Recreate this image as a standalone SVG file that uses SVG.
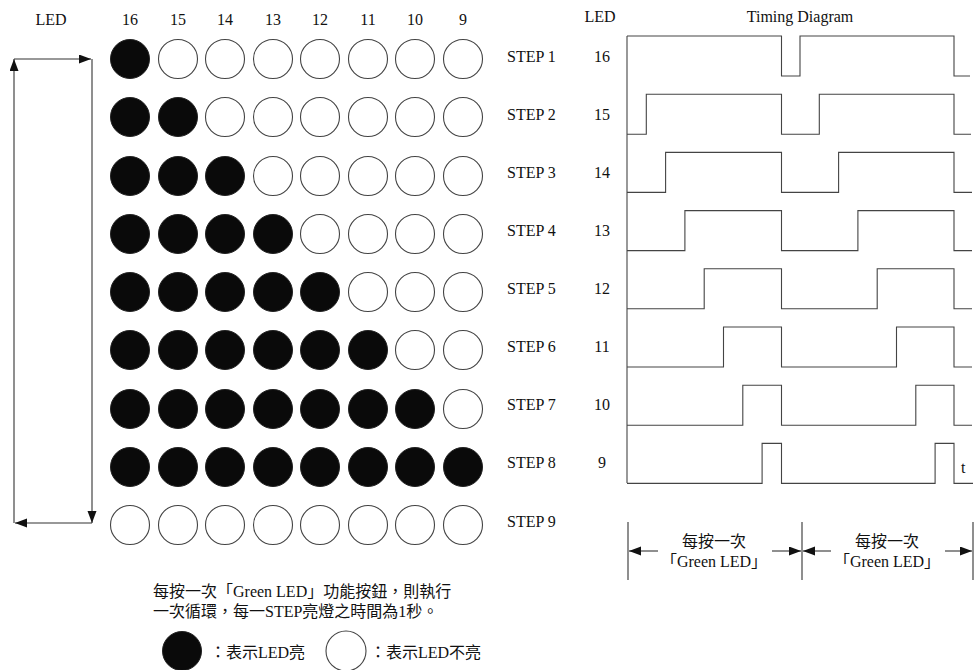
<svg xmlns="http://www.w3.org/2000/svg" width="975" height="670" viewBox="0 0 975 670">
<style>
text{font-family:"Liberation Serif","Noto Sans CJK TC",serif;font-size:16px;fill:#111}
.m{text-anchor:middle}
.on{fill:#0a0a0a;stroke:#222;stroke-width:1}
.off{fill:#fff;stroke:#444;stroke-width:1.1}
.w{fill:none;stroke:#444;stroke-width:1.1}
.ln{fill:none;stroke:#333;stroke-width:1.1}
</style>
<defs>
<marker id="ah" markerUnits="userSpaceOnUse" markerWidth="14" markerHeight="10" refX="12" refY="4.5" orient="auto">
<path d="M0,0 L12,4.5 L0,9 z" fill="#111"/>
</marker>
<circle id="c" r="19.5"/>
</defs>
<rect width="975" height="670" fill="#fff"/>

<g id="headers">
<text class="m" x="51" y="25">LED</text>
<text class="m" x="130" y="25">16</text>
<text class="m" x="178" y="25">15</text>
<text class="m" x="225" y="25">14</text>
<text class="m" x="273" y="25">13</text>
<text class="m" x="320" y="25">12</text>
<text class="m" x="368" y="25">11</text>
<text class="m" x="415" y="25">10</text>
<text class="m" x="463" y="25">9</text>
</g>

<g id="loop-arrow">
<line class="ln" x1="14" y1="523" x2="14" y2="59" marker-end="url(#ah)"/>
<line class="ln" x1="14" y1="59" x2="91" y2="59" marker-end="url(#ah)"/>
<line class="ln" x1="92" y1="59" x2="92" y2="523" marker-end="url(#ah)"/>
<line class="ln" x1="92" y1="523" x2="15" y2="523" marker-end="url(#ah)"/>
</g>

<g id="step1">
<use href="#c" x="130" y="59" class="on"/><use href="#c" x="178" y="59" class="off"/><use href="#c" x="225" y="59" class="off"/><use href="#c" x="273" y="59" class="off"/><use href="#c" x="320" y="59" class="off"/><use href="#c" x="368" y="59" class="off"/><use href="#c" x="415" y="59" class="off"/><use href="#c" x="463" y="59" class="off"/>
<text x="507" y="62">STEP 1</text>
</g>
<g id="step2">
<use href="#c" x="130" y="117" class="on"/><use href="#c" x="178" y="117" class="on"/><use href="#c" x="225" y="117" class="off"/><use href="#c" x="273" y="117" class="off"/><use href="#c" x="320" y="117" class="off"/><use href="#c" x="368" y="117" class="off"/><use href="#c" x="415" y="117" class="off"/><use href="#c" x="463" y="117" class="off"/>
<text x="507" y="120">STEP 2</text>
</g>
<g id="step3">
<use href="#c" x="130" y="176" class="on"/><use href="#c" x="178" y="176" class="on"/><use href="#c" x="225" y="176" class="on"/><use href="#c" x="273" y="176" class="off"/><use href="#c" x="320" y="176" class="off"/><use href="#c" x="368" y="176" class="off"/><use href="#c" x="415" y="176" class="off"/><use href="#c" x="463" y="176" class="off"/>
<text x="507" y="178">STEP 3</text>
</g>
<g id="step4">
<use href="#c" x="130" y="234" class="on"/><use href="#c" x="178" y="234" class="on"/><use href="#c" x="225" y="234" class="on"/><use href="#c" x="273" y="234" class="on"/><use href="#c" x="320" y="234" class="off"/><use href="#c" x="368" y="234" class="off"/><use href="#c" x="415" y="234" class="off"/><use href="#c" x="463" y="234" class="off"/>
<text x="507" y="236">STEP 4</text>
</g>
<g id="step5">
<use href="#c" x="130" y="292" class="on"/><use href="#c" x="178" y="292" class="on"/><use href="#c" x="225" y="292" class="on"/><use href="#c" x="273" y="292" class="on"/><use href="#c" x="320" y="292" class="on"/><use href="#c" x="368" y="292" class="off"/><use href="#c" x="415" y="292" class="off"/><use href="#c" x="463" y="292" class="off"/>
<text x="507" y="294">STEP 5</text>
</g>
<g id="step6">
<use href="#c" x="130" y="350" class="on"/><use href="#c" x="178" y="350" class="on"/><use href="#c" x="225" y="350" class="on"/><use href="#c" x="273" y="350" class="on"/><use href="#c" x="320" y="350" class="on"/><use href="#c" x="368" y="350" class="on"/><use href="#c" x="415" y="350" class="off"/><use href="#c" x="463" y="350" class="off"/>
<text x="507" y="352">STEP 6</text>
</g>
<g id="step7">
<use href="#c" x="130" y="409" class="on"/><use href="#c" x="178" y="409" class="on"/><use href="#c" x="225" y="409" class="on"/><use href="#c" x="273" y="409" class="on"/><use href="#c" x="320" y="409" class="on"/><use href="#c" x="368" y="409" class="on"/><use href="#c" x="415" y="409" class="on"/><use href="#c" x="463" y="409" class="off"/>
<text x="507" y="410">STEP 7</text>
</g>
<g id="step8">
<use href="#c" x="130" y="467" class="on"/><use href="#c" x="178" y="467" class="on"/><use href="#c" x="225" y="467" class="on"/><use href="#c" x="273" y="467" class="on"/><use href="#c" x="320" y="467" class="on"/><use href="#c" x="368" y="467" class="on"/><use href="#c" x="415" y="467" class="on"/><use href="#c" x="463" y="467" class="on"/>
<text x="507" y="468">STEP 8</text>
</g>
<g id="step9">
<use href="#c" x="130" y="525" class="off"/><use href="#c" x="178" y="525" class="off"/><use href="#c" x="225" y="525" class="off"/><use href="#c" x="273" y="525" class="off"/><use href="#c" x="320" y="525" class="off"/><use href="#c" x="368" y="525" class="off"/><use href="#c" x="415" y="525" class="off"/><use href="#c" x="463" y="525" class="off"/>
<text x="507" y="527">STEP 9</text>
</g>

<g id="note">
<text x="153" y="597">每按一次「Green LED」功能按鈕，則執行</text>
<text x="153" y="617">一次循環，每一STEP亮燈之時間為1秒。</text>
</g>
<g id="legend">
<circle cx="182" cy="651" r="19.5" class="on"/>
<text x="210" y="658">：表示LED亮</text>
<circle cx="346" cy="651" r="20" class="off"/>
<text x="370" y="658">：表示LED不亮</text>
</g>

<g id="timing">
<text class="m" x="600" y="22">LED</text>
<text class="m" x="800" y="22">Timing Diagram</text>
<text class="m" x="602" y="62">16</text>
<text class="m" x="602" y="120">15</text>
<text class="m" x="602" y="178">14</text>
<text class="m" x="602" y="236">13</text>
<text class="m" x="602" y="294">12</text>
<text class="m" x="602" y="352">11</text>
<text class="m" x="602" y="410">10</text>
<text class="m" x="602" y="468">9</text>
<line class="w" x1="627" y1="36" x2="627" y2="483"/>
<path class="w" d="M627,36 H781.5 V76 H800 V36 H954 V76 H970"/>
<path class="w" d="M627,134.2 H646.3 V94.2 H781.5 V134.2 H819.3 V94.2 H954 V134.2 H971"/>
<path class="w" d="M627,192.4 H665.6 V152.4 H781.5 V192.4 H838.6 V152.4 H954 V192.4 H972"/>
<path class="w" d="M627,250.6 H684.9 V210.6 H781.5 V250.6 H857.9 V210.6 H954 V250.6 H972"/>
<path class="w" d="M627,308.8 H704.2 V268.8 H781.5 V308.8 H877.2 V268.8 H954 V308.8 H972"/>
<path class="w" d="M627,367 H723.5 V327 H781.5 V367 H896.5 V327 H954 V367 H972"/>
<path class="w" d="M627,425.2 H742.8 V385.2 H781.5 V425.2 H915.8 V385.2 H954 V425.2 H972"/>
<path class="w" d="M627,483.4 H762.1 V443.4 H781.5 V483.4 H935.1 V443.4 H954 V483.4 H973"/>
<text x="961" y="473">t</text>
</g>

<g id="period">
<line class="ln" x1="628" y1="522" x2="628" y2="580"/>
<line class="ln" x1="802" y1="522" x2="802" y2="580"/>
<line class="ln" x1="973" y1="522" x2="973" y2="580"/>
<line class="ln" x1="658" y1="551" x2="629" y2="551" marker-end="url(#ah)"/>
<line class="ln" x1="772" y1="551" x2="801" y2="551" marker-end="url(#ah)"/>
<line class="ln" x1="831" y1="551" x2="803" y2="551" marker-end="url(#ah)"/>
<line class="ln" x1="945" y1="551" x2="972" y2="551" marker-end="url(#ah)"/>
<text class="m" x="714" y="547">每按一次</text>
<text class="m" x="714" y="567">「Green LED」</text>
<text class="m" x="887" y="547">每按一次</text>
<text class="m" x="887" y="567">「Green LED」</text>
</g>
</svg>
